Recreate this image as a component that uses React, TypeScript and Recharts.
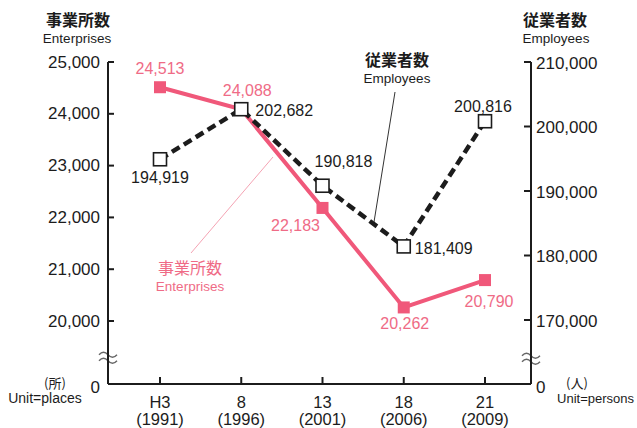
import React from 'react';
import { LineChart, Line, XAxis, YAxis, LabelList, ReferenceLine } from 'recharts';

const categories = ['H3', '8', '13', '18', '21'];
const years = ['(1991)', '(1996)', '(2001)', '(2006)', '(2009)'];
const enterprises = [24513, 24088, 22183, 20262, 20790];
const employees = [194919, 202682, 190818, 181409, 200816];
const leftTicks = [20000, 21000, 22000, 23000, 24000, 25000];
const rightTicks = [170000, 180000, 190000, 200000, 210000];
const LEFT_ZERO = 18784; // where "0" sits on the broken left axis
const RIGHT_ZERO = 160078; // where "0" sits on the broken right axis
const LEFT_BREAK = 19330;

const data = categories.map((c, i) => ({
  cat: c,
  year: years[i],
  ent: enterprises[i],
  emp: employees[i],
}));

const PINK = '#f0587a';
const PINK_TEXT = '#ef6b86';
const DARK = '#1c1c1c';
const NUM_FONT = '"Liberation Sans", Arial, Helvetica, sans-serif';
const JP_FONT = '"Noto Sans CJK JP", "Noto Sans CJK SC", sans-serif';

const entOffsets: [number, number][] = [[0, -19], [6, -19], [-27, 18], [1, 16], [4, 21]];
const empOffsets: [number, number][] = [[0, 18], [43, 1], [21, -24], [40, 2], [-2, -15]];

const fmt = (v: number) => v.toLocaleString('en-US');

const LeftTick = (props: any) => {
  const { x, y, payload } = props;
  const isZero = payload.value < 20000;
  return (
    <g>
      {!isZero && <line x1={x} x2={x + 6} y1={y} y2={y} stroke={DARK} strokeWidth={2} />}
      <text x={x - 8} y={isZero ? y + 3 : y} textAnchor="end" dominantBaseline="central" fontSize={17} fill={DARK} fontFamily={NUM_FONT}>
        {isZero ? '0' : fmt(payload.value)}
      </text>
    </g>
  );
};

const RightTick = (props: any) => {
  const { x, y, payload } = props;
  const isZero = payload.value < 170000;
  return (
    <g>
      {!isZero && <line x1={x - 7} x2={x} y1={y} y2={y} stroke={DARK} strokeWidth={2} />}
      <text x={x + 5} y={isZero ? y + 3 : y + 1} textAnchor="start" dominantBaseline="central" fontSize={17} fill={DARK} fontFamily={NUM_FONT}>
        {isZero ? '0' : fmt(payload.value)}
      </text>
    </g>
  );
};

const BottomTick = (props: any) => {
  const { x, y, payload, index } = props;
  return (
    <g>
      <line x1={x} x2={x} y1={y} y2={y - 7} stroke={DARK} strokeWidth={2} />
      <text x={x} y={y + 17.5} textAnchor="middle" dominantBaseline="central" fontSize={16.5} fill={DARK} fontFamily={NUM_FONT}>
        {payload.value}
      </text>
      <text x={x} y={y + 35} textAnchor="middle" dominantBaseline="central" fontSize={16.5} fill={DARK} fontFamily={NUM_FONT}>
        {years[index]}
      </text>
    </g>
  );
};

const BreakMark = ({ cx, cy }: { cx: number; cy: number }) => (
  <g>
    <rect x={cx - 3} y={cy - 3} width={6} height={6} fill="#fff" />
    <path d={`M${cx - 9},${cy - 1} q4.5,-5 9,0 t9,0`} fill="none" stroke="#666" strokeWidth={1.4} />
    <path d={`M${cx - 9},${cy + 5} q4.5,-5 9,0 t9,0`} fill="none" stroke="#666" strokeWidth={1.4} />
  </g>
);

const BreakShape = (props: any) => {
  const { x1, x2, y1 } = props;
  return (
    <g>
      <BreakMark cx={x1} cy={y1} />
      <BreakMark cx={x2} cy={y1 + 1} />
    </g>
  );
};

const EntDot = (props: any) => {
  const { cx, cy, index } = props;
  return <rect key={`e${index}`} x={cx - 6} y={cy - 6} width={12} height={12} fill={PINK} />;
};

const EmpDot = (props: any) => {
  const { cx, cy, index } = props;
  return <rect key={`p${index}`} x={cx - 6.5} y={cy - 6.5} width={13} height={13} fill="#fff" stroke={DARK} strokeWidth={1.6} />;
};

const makeLabel = (offsets: [number, number][], color: string) => (props: any) => {
  const { x, y, value, index } = props;
  const [dx, dy] = offsets[index] || [0, 0];
  return (
    <text x={x + dx} y={y + dy} textAnchor="middle" dominantBaseline="central" fontSize={16} fill={color} fontFamily={NUM_FONT}>
      {fmt(value)}
    </text>
  );
};

export default function App() {
  return (
    <div style={{ position: 'absolute', left: 0, top: 0, width: 637, height: 428, background: '#fff', overflow: 'hidden' }}>
      <LineChart
        width={637}
        height={428}
        data={data}
        margin={{ top: 62, right: 46, bottom: 0, left: 48 }}
      >
        <XAxis
          dataKey="cat"
          height={44}
          padding={{ left: 52, right: 46 }}
          axisLine={{ stroke: DARK, strokeWidth: 2 }}
          tickLine={false}
          tickSize={0}
          tickMargin={0}
          interval={0}
          tick={<BottomTick />}
        />
        <YAxis
          yAxisId="left"
          orientation="left"
          width={60}
          domain={[LEFT_ZERO, 25000]}
          ticks={[LEFT_ZERO, ...leftTicks]}
          interval={0}
          axisLine={{ stroke: DARK, strokeWidth: 2 }}
          tickLine={false}
          tickSize={0}
          tickMargin={0}
          tick={<LeftTick />}
        />
        <YAxis
          yAxisId="right"
          orientation="right"
          width={60}
          domain={[RIGHT_ZERO, 210000]}
          ticks={[RIGHT_ZERO, ...rightTicks]}
          interval={0}
          axisLine={{ stroke: DARK, strokeWidth: 2 }}
          tickLine={false}
          tickSize={0}
          tickMargin={0}
          tick={<RightTick />}
        />
        <ReferenceLine yAxisId="left" y={LEFT_BREAK} shape={BreakShape} />
        <Line
          yAxisId="left"
          dataKey="ent"
          stroke={PINK}
          strokeWidth={4}
          dot={EntDot}
          activeDot={false}
          isAnimationActive={false}
        >
          <LabelList dataKey="ent" content={makeLabel(entOffsets, PINK_TEXT)} />
        </Line>
        <Line
          yAxisId="right"
          dataKey="emp"
          stroke={DARK}
          strokeWidth={4.5}
          strokeDasharray="9 5"
          dot={EmpDot}
          activeDot={false}
          isAnimationActive={false}
        >
          <LabelList dataKey="emp" content={makeLabel(empOffsets, DARK)} />
        </Line>
      </LineChart>
      <svg width={637} height={428} style={{ position: 'absolute', left: 0, top: 0, pointerEvents: 'none' }}>
        <text x={78} y={19} textAnchor="middle" dominantBaseline="central" fontSize={16} fontWeight={700} fill={DARK} fontFamily={JP_FONT}>事業所数</text>
        <text x={77} y={38} textAnchor="middle" dominantBaseline="central" fontSize={13.5} fill={DARK} fontFamily={NUM_FONT}>Enterprises</text>
        <text x={555} y={19} textAnchor="middle" dominantBaseline="central" fontSize={16} fontWeight={700} fill={DARK} fontFamily={JP_FONT}>従業者数</text>
        <text x={556} y={38} textAnchor="middle" dominantBaseline="central" fontSize={13.5} fill={DARK} fontFamily={NUM_FONT}>Employees</text>

        <text x={55} y={382} textAnchor="middle" dominantBaseline="central" fontSize={13} fill={DARK} fontFamily={JP_FONT}>(所)</text>
        <text x={45} y={398} textAnchor="middle" dominantBaseline="central" fontSize={14} fill={DARK} fontFamily={NUM_FONT}>Unit=places</text>
        <text x={577} y={382} textAnchor="middle" dominantBaseline="central" fontSize={13} fill={DARK} fontFamily={JP_FONT}>(人)</text>
        <text x={634} y={398} textAnchor="end" dominantBaseline="central" fontSize={13} fill={DARK} fontFamily={NUM_FONT}>Unit=persons</text>

        <line x1={395} y1={92} x2={374} y2={222} stroke="#333" strokeWidth={1} />
        <text x={397} y={59} textAnchor="middle" dominantBaseline="central" fontSize={16} fontWeight={700} fill={DARK} fontFamily={JP_FONT}>従業者数</text>
        <text x={397} y={78} textAnchor="middle" dominantBaseline="central" fontSize={13.5} fill={DARK} fontFamily={NUM_FONT}>Employees</text>

        <line x1={191} y1={253} x2={273} y2={157} stroke="#f4a3b3" strokeWidth={1} />
        <text x={190} y={267} textAnchor="middle" dominantBaseline="central" fontSize={16} fill={PINK_TEXT} fontFamily={JP_FONT}>事業所数</text>
        <text x={190} y={286} textAnchor="middle" dominantBaseline="central" fontSize={13.5} fill={PINK_TEXT} fontFamily={NUM_FONT}>Enterprises</text>
      </svg>
    </div>
  );
}
